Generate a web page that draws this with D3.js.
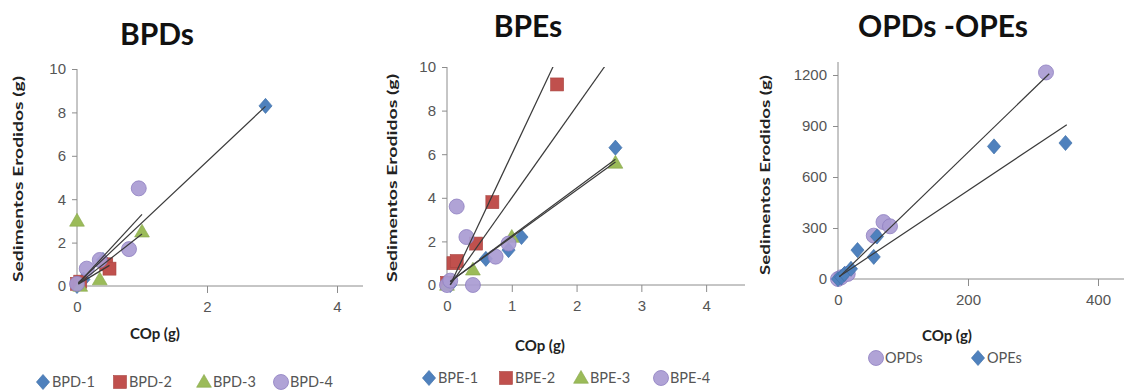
<!DOCTYPE html>
<html>
<head>
<meta charset="utf-8">
<style>
  body { margin: 0; background: #fff; }
  svg { font-family: Lato, "Open Sans", sans-serif; }
  .tick text { fill: #555; font-size: 15px; }
  .axis path, .axis line { stroke: #8c8c8c; }
</style>
</head>
<body>
<div id="chart"></div>
<script src="https://cdn.jsdelivr.net/npm/d3@7"></script>
<script>
// ---- data ----
let bpdTitles = ["BPD-1", "BPD-2", "BPD-3", "BPD-4"];
let bpd1 = [[0, 0], [0.1, 0.3], [0.4, 1.2], [2.9, 8.3]];
let bpd2 = [[0, 0.1], [0.05, 0.2], [0.45, 1.0], [0.5, 0.8]];
let bpd3 = [[0, 3.0], [0.05, 0], [0.35, 0.3], [1.0, 2.5]];
let bpd4 = [[0, 0.1], [0.15, 0.8], [0.35, 1.2], [0.8, 1.7], [0.95, 4.5]];
// trendlines: [slope, intercept, xFrom, xTo]
let bpdTrends = [[2.82, 0.1, 0.02, 2.9], [1.8, 0.05, 0.02, 0.5], [2.35, 0.05, 0.02, 1.0], [3.25, 0.05, 0.02, 1.0]];

let bpeTitles = ["BPE-1", "BPE-2", "BPE-3", "BPE-4"];
let bpe1 = [[0, 0.1], [0.05, 0], [0.6, 1.2], [0.95, 1.6], [1.15, 2.2], [2.6, 6.3]];
let bpe2 = [[0, 0.1], [0.1, 1.0], [0.15, 1.1], [0.45, 1.9], [0.7, 3.8], [1.7, 9.2]];
let bpe3 = [[0, 0], [0.4, 0.7], [1.0, 2.2], [2.6, 5.6]];
let bpe4 = [[0, 0], [0.05, 0.2], [0.15, 3.6], [0.3, 2.2], [0.4, 0], [0.75, 1.3], [0.95, 1.9]];
let bpeTrends = [[2.2, 0.05, 0.05, 2.6], [6.3, -0.3, 0.05, 1.7], [2.15, 0.05, 0.05, 2.6], [4.2, -0.2, 0.05, 2.6]];

let opTitles = ["OPDs", "OPEs"];
let opds = [[0, 0], [5, 10], [15, 30], [55, 255], [70, 335], [80, 310], [320, 1215]];
let opes = [[0, 0], [5, 10], [10, 30], [20, 60], [30, 170], [55, 130], [60, 250], [240, 780], [350, 800]];
let opTrends = [[3.7, 5, 2, 325], [2.55, 10, 2, 352]];

let bpdTicksX = [0, 2, 4], bpdTicksY = [0, 2, 4, 6, 8, 10];
let bpeTicksX = [0, 1, 2, 3, 4], bpeTicksY = [0, 2, 4, 6, 8, 10];
let opTicksX = [0, 200, 400], opTicksY = [0, 300, 600, 900, 1200];

// marker styles
let blue = "#4f81bd", red = "#c0504d", green = "#9bbb59", purple = "#a99bd3";

let svg = d3.select("#chart").append("svg").attr("width", 1125).attr("height", 391);

function marker(g, kind, x, y) {
  if (kind == "diamond") {
    g.append("path").attr("d", d3.symbol(d3.symbolDiamond2, 110)()).attr("transform", `translate(${x},${y}) scale(1,1.15)`)
      .attr("fill", blue).attr("stroke", "#3d6ea8").attr("stroke-width", 0.6);
  } else if (kind == "square") {
    g.append("rect").attr("x", x - 6.5).attr("y", y - 6.5).attr("width", 13).attr("height", 13)
      .attr("fill", red).attr("stroke", "#a84542").attr("stroke-width", 0.6);
  } else if (kind == "triangle") {
    g.append("path").attr("d", d3.symbol(d3.symbolTriangle, 95)()).attr("transform", `translate(${x},${y + 1})`)
      .attr("fill", green).attr("stroke", "#86a64a").attr("stroke-width", 0.6);
  } else {
    g.append("circle").attr("cx", x).attr("cy", y).attr("r", 7.5)
      .attr("fill", purple).attr("stroke", "#8e7fc0").attr("stroke-width", 0.8).attr("fill-opacity", 0.92);
  }
}

function drawPanel(p) {
  let g = svg.append("g");
  let x = d3.scaleLinear().domain(p.xDomain).range([p.left, p.right]);
  let y = d3.scaleLinear().domain(p.yDomain).range([p.bottom, p.top]);

  g.append("text").attr("x", p.titleX).attr("y", p.titleY).attr("text-anchor", "middle")
    .attr("font-size", 30).attr("font-weight", "bold").attr("fill", "#111").text(p.title);

  let fmt = d3.format("d");
  let xa = g.append("g").attr("class", "axis").attr("transform", `translate(0,${y(0)})`)
    .call(d3.axisBottom(x).tickValues(p.ticksX).tickFormat(fmt).tickSize(7).tickPadding(8).tickSizeOuter(0));
  let ya = g.append("g").attr("class", "axis").attr("transform", `translate(${x(0)},0)`)
    .call(d3.axisLeft(y).tickValues(p.ticksY).tickFormat(fmt).tickSize(5).tickPadding(6).tickSizeOuter(0));
  xa.select(".domain").attr("d", `M${p.left},0H${p.right}`);
  ya.select(".domain").attr("d", `M0,${p.bottom}V${p.axisTop}`);
  xa.selectAll(".tick").filter(d => d === 0).select("line").remove();
  ya.selectAll(".tick").filter(d => d === 0).select("line").remove();

  g.append("text").attr("transform", `translate(${p.yLabelX},${p.yLabelY}) rotate(-90)`)
    .attr("text-anchor", "middle").attr("font-size", 14).attr("font-weight", "bold").attr("fill", "#222")
    .attr("textLength", p.yLabelLen).attr("lengthAdjust", "spacingAndGlyphs")
    .text("Sedimentos Erodidos  (g)");
  g.append("text").attr("x", p.xLabelX).attr("y", p.xLabelY).attr("text-anchor", "middle")
    .attr("font-size", 15).attr("font-weight", "bold").attr("fill", "#222").text("COp (g)");

  let clipId = "clip" + p.id;
  g.append("clipPath").attr("id", clipId).append("rect")
    .attr("x", p.left - 10).attr("y", y(p.yDomain[1])).attr("width", p.right - p.left + 20).attr("height", p.bottom - y(p.yDomain[1]) + 10);

  let pts = g.append("g");
  p.series.forEach((s, i) => {
    s.forEach(d => marker(pts, p.kinds[i], x(d[0]), y(d[1])));
  });

  let lines = g.append("g").attr("clip-path", `url(#${clipId})`);
  p.trends.forEach(t => {
    lines.append("line")
      .attr("x1", x(t[2])).attr("y1", y(t[0] * t[2] + t[1]))
      .attr("x2", x(t[3])).attr("y2", y(t[0] * t[3] + t[1]))
      .attr("stroke", "#3a3a3a").attr("stroke-width", 1.2);
  });

  let leg = g.append("g");
  p.names.forEach((n, i) => {
    marker(leg, p.kinds[i], p.legendX[i], p.legendY);
    leg.append("text").attr("x", p.legendX[i] + 9).attr("y", p.legendY + 5)
      .attr("font-size", 14.5).attr("fill", "#555").text(n);
  });
}

drawPanel({
  id: 1, title: "BPDs", titleX: 157, titleY: 45,
  xDomain: [0, 4.4], yDomain: [0, 10], left: 77, right: 363, top: 69, bottom: 286, axisTop: 69,
  ticksX: bpdTicksX, ticksY: bpdTicksY,
  yLabelX: 23, yLabelY: 179, yLabelLen: 206, xLabelX: 155, xLabelY: 339,
  series: [bpd1, bpd2, bpd3, bpd4], kinds: ["diamond", "square", "triangle", "circle"],
  trends: bpdTrends, names: bpdTitles, legendX: [43, 120, 204, 281], legendY: 382
});

drawPanel({
  id: 2, title: "BPEs", titleX: 528, titleY: 37,
  xDomain: [0, 4.6], yDomain: [0, 10], left: 447, right: 745, top: 67, bottom: 285, axisTop: 67,
  ticksX: bpeTicksX, ticksY: bpeTicksY,
  yLabelX: 397, yLabelY: 178, yLabelLen: 208, xLabelX: 540, xLabelY: 351,
  series: [bpe1, bpe2, bpe3, bpe4], kinds: ["diamond", "square", "triangle", "circle"],
  trends: bpeTrends, names: bpeTitles, legendX: [429, 506, 581, 661], legendY: 378
});

drawPanel({
  id: 3, title: "OPDs -OPEs", titleX: 943, titleY: 37,
  xDomain: [0, 440], yDomain: [0, 1300], left: 838, right: 1124, top: 58, bottom: 279, axisTop: 62,
  ticksX: opTicksX, ticksY: opTicksY,
  yLabelX: 770, yLabelY: 175, yLabelLen: 200, xLabelX: 947, xLabelY: 341,
  series: [opds, opes], kinds: ["circle", "diamond"],
  trends: opTrends, names: opTitles, legendX: [876, 978], legendY: 358
});
</script>
</body>
</html>
